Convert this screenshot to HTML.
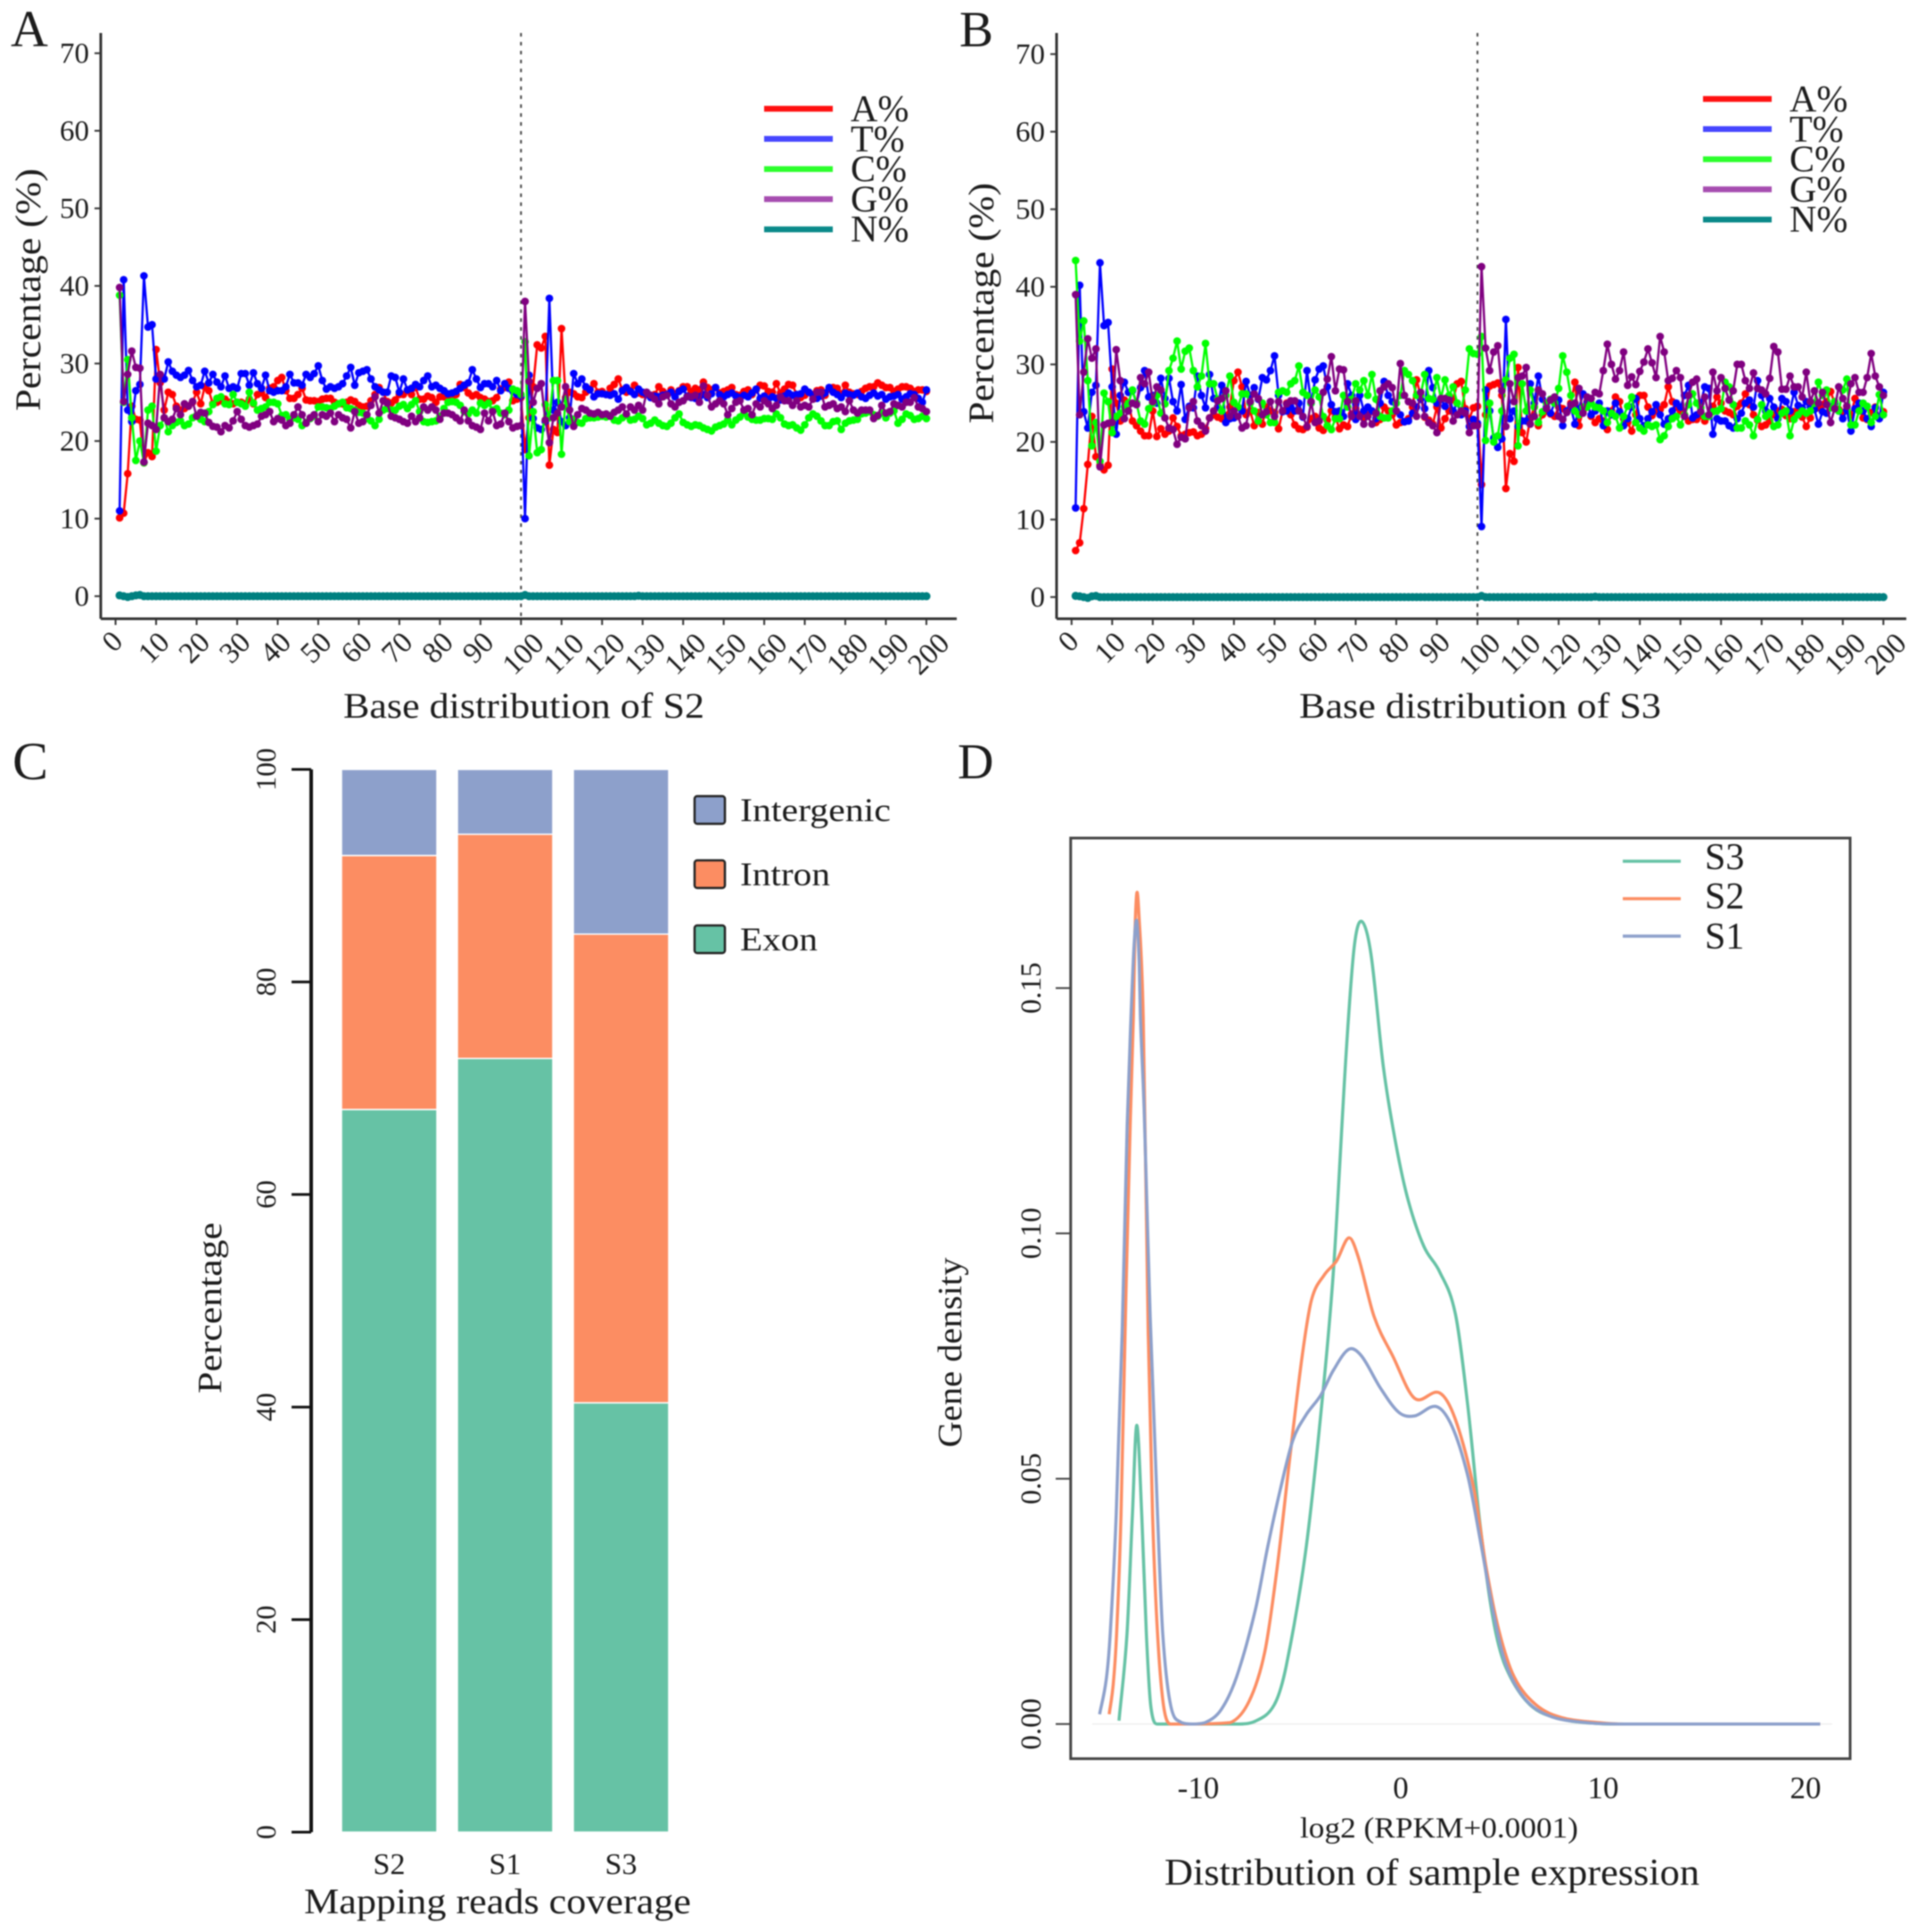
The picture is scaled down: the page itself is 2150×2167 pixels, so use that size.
<!DOCTYPE html>
<html lang="en">
<head>
<meta charset="utf-8">
<title>Base distribution, mapping coverage and expression density</title>
<style>
html,body{margin:0;padding:0;background:#fff;width:2150px;height:2167px;overflow:hidden}
svg{display:block;filter:blur(0.9px)}
text{font-family:"Liberation Serif",serif;fill:#1c1c1c}
</style>
</head>
<body>
<svg id="figure" xmlns="http://www.w3.org/2000/svg" width="2150" height="2167" viewBox="0 0 2150 2167">
<rect x="0" y="0" width="2150" height="2167" fill="#fff"/>
<text x="12" y="52" font-size="58">A</text>
<text x="1076" y="52" font-size="57">B</text>
<text x="14" y="874" font-size="60">C</text>
<text x="1074" y="873" font-size="56">D</text>
<text x="385" y="805" font-size="40" textLength="405" lengthAdjust="spacingAndGlyphs">Base distribution of S2</text>
<text transform="translate(45,325) rotate(-90)" text-anchor="middle" font-size="40" textLength="272" lengthAdjust="spacingAndGlyphs">Percentage (%)</text>
<text x="1457" y="805" font-size="40" textLength="406" lengthAdjust="spacingAndGlyphs">Base distribution of S3</text>
<text transform="translate(1114,340) rotate(-90)" text-anchor="middle" font-size="40" textLength="270" lengthAdjust="spacingAndGlyphs">Percentage (%)</text>
<text transform="translate(248,1467) rotate(-90)" text-anchor="middle" font-size="38" textLength="192" lengthAdjust="spacingAndGlyphs">Percentage</text>
<text x="341" y="2146" font-size="40" textLength="434" lengthAdjust="spacingAndGlyphs">Mapping reads coverage</text>
<text transform="translate(1078,1517) rotate(-90)" text-anchor="middle" font-size="38" textLength="213" lengthAdjust="spacingAndGlyphs">Gene density</text>
<text x="1458" y="2054" font-size="33" textLength="312" lengthAdjust="spacingAndGlyphs" transform="translate(0,7)">log2 (RPKM+0.0001)</text>
<text x="1306" y="2114" font-size="42" textLength="600" lengthAdjust="spacingAndGlyphs">Distribution of sample expression</text>
</svg>
<script>
var baseTicksY = [0,10,20,30,40,50,60,70];
var baseTicksX = [0,10,20,30,40,50,60,70,80,90,100,110,120,130,140,150,160,170,180,190,200];
var baseLegend = ["A%","T%","C%","G%","N%"];

var s2A = [10.1,10.7,15.8,24.5,22.8,22.7,17.2,18.5,18,31.8,
27.5,24,26.3,26,24.5,24,24.2,24.5,25,26.3,
24.8,27,26.5,24.8,25,25.2,25.4,25,24.8,25,
25,24.8,25.4,24.8,26,26.2,25.6,26.8,27,27.8,
28.2,26.5,25.5,25.5,26,26.8,25.3,25.2,25.2,25.1,
25.4,25.5,25.5,25,24.8,24.8,25,25.3,25.1,24.6,
24.4,24.5,25.2,26,26.9,26.3,25.1,24.9,25.3,26,
26,26.5,26,26.9,25.4,25.4,25.8,25.6,25,25.7,
25.7,25.4,25.7,26,27.3,26.9,26.2,25.8,26,25.6,
25.4,25.1,25.2,25.6,26.7,26.9,27.6,25.2,25.4,25.6,
18.9,23,27,32.4,32,33.5,16.9,21.5,21.1,34.5,
25.6,26.3,26.1,25.7,25.6,26.3,26.7,27.4,26.3,26.4,
26,26.8,27.3,28,26.6,26.3,26.5,27.2,26.2,26,
26.2,25.9,26,27,26.4,26,26.6,26.1,26.5,27,
27,26.4,26.8,26.6,27.6,26.9,26.6,26.9,26.2,26.4,
26.6,26.9,26,25.9,26.4,26.6,26,26.6,27.2,27.1,
26.4,26.3,27.4,26.2,26.7,27.3,27.2,26,25.6,25.9,
26.3,26,26.5,26.6,25.9,26.7,26.9,26.8,26.1,27.2,
26.3,26.1,26,26.4,26.8,27,27,27.5,27.2,26.9,
26.9,26.4,26.7,27,27,26.8,26.4,26.6,26.6,26.4];
var s2T = [11,40.8,24,22.5,26.5,27.3,41.3,34.7,35,28,
28.5,28,30.2,29,28.5,28.2,28.5,29.1,27.8,27,
27.2,29,27.5,28.6,27.6,27,28.4,26.8,27,26.8,
28.7,28.7,27.2,28.8,27.4,26.8,28.5,26.5,26.3,26.5,
26.5,27,28.6,27.5,27.5,27.2,28.6,28.2,28.7,29.7,
27.8,26.7,27,26.8,27,27.4,28.4,29.5,27.2,28.8,
29,29.2,28,27,26.6,26.3,26.3,28.4,28.2,26.3,
28,26.6,26.8,27.3,27,27.8,28.4,27,27.2,26.8,
26.5,26.1,26.2,26.4,26.8,27.2,27.5,29.2,28,26.9,
27.4,27.4,27,27.8,26.5,27.4,26.8,26.4,26,25.8,
10,28.5,22.9,21.7,21.5,22.5,38.4,24,25,22.5,
22,23,28.7,27.4,28,27,26.6,25.7,26.1,26.1,
26,25.9,26.1,25.4,26.5,26.9,26.4,26,26.7,26.3,
26,25.6,25.8,25.7,25.9,26,26.3,25.7,26.4,26.7,
25.8,25.6,25.5,25.7,26,25.6,26.1,26.9,26,25.7,
26,26.2,25.8,25.6,25.9,25.7,26.2,26.7,25.5,25.8,
25.4,25.7,25.5,25.3,25.8,26.2,25.9,26,26.1,26.7,
26.3,25.9,25.5,25.8,26.2,26.9,26.3,26,25.6,26.2,
26,25.9,26.2,25.7,25.5,25.9,26.2,25.8,26,25.4,
25.7,25.8,26,25.4,25.7,26.1,26,25.5,25,26.6];
var s2C = [38.8,25,30.5,23,17.5,20,17.2,24,24.5,18.7,
22,23,21.2,22,22.4,22.6,22,22.2,23,23.3,
22.8,22.5,23.8,24.7,25.5,25.7,24.8,24.7,26,25,
24.8,24.5,26.3,24.9,24,24.2,24.4,25,25,24.8,
23.3,23.4,22.8,23,22.8,22,22.4,22.9,23.2,24.4,
24.4,24.3,24.2,24.5,24.8,25,24.3,24.2,24,23.7,
23.6,22.9,22.6,22,22.8,24,24.2,24,24,24.5,
24.7,24.2,24.7,25.2,23.8,22.5,22.4,22.5,22.6,23.2,
24.2,25,25.1,25,24.6,23.8,23.5,24,23.6,24.9,
24.6,24.9,24,24.2,23.6,23.4,24,26.7,26.5,26,
32.8,18.1,23.8,18.5,18.9,24.7,23,27.8,27.8,18.3,
25.4,22.5,22.8,22.4,22.3,22.9,23,23,23.1,23.2,
23.1,23.3,22.7,22.6,23,23.3,22.7,22.8,23.2,22.9,
22.1,22.3,22.7,22.3,22,21.9,22.3,23,23.5,22.4,
22.1,21.9,22.1,22,21.7,21.5,21.3,21.8,22,22.2,
22.7,22.1,22.7,23.1,23.6,23.1,22.8,22.7,22.7,22.9,
22.9,22.8,23.5,23,22.2,22,22.1,21.7,21.4,22.1,
23,23.5,23.2,22.6,22,22,22.5,22.6,21.5,22.3,
22.6,22.7,22.8,23.5,23.6,23.8,23.4,23.2,23.6,23,
23.6,23.9,22.3,22.8,23.5,23.3,22.8,22.9,23.2,22.9];
var s2G = [39.8,25.1,28.6,31.6,29.5,29.4,17.3,22.3,22,21.5,
28.6,23,22.5,22.8,24.2,23.4,24.8,24.5,25.1,23.2,
23.7,23.6,22.4,21.9,21.8,21.2,22,21.7,22.6,23.8,
22.8,22,21.8,22,22.2,23.2,23.4,23.8,22.5,22.9,
22.7,22,22.3,23.4,24.4,23.4,22.3,23,23.4,22.5,
23.4,23.2,23.6,22.5,23.4,23,22.8,21.7,23.8,22.3,
22.5,23.4,24.6,25.7,23.6,25.2,24.9,23.2,23,22.8,
22.5,22.3,23.2,22.5,23,24.4,24,24.4,24,22.8,
23.6,23.6,23.4,23,22.6,24,22.6,22,21.8,21.5,
23.6,22.6,23.8,22,22.2,23.6,22.5,21.7,21.9,22,
38,27.7,25,26.8,27.4,22.7,19.8,23,23.6,24.4,
27,24,21.9,23.4,24.2,24,23.6,23.5,23.7,23.4,
23.5,23.2,23.7,24,24.4,23.5,24.4,24,24.6,24,
26.3,25.9,25.4,24.8,25.7,25.9,24.8,24.4,25,25.2,
25.7,25.7,25.9,25,27.1,25.9,24.4,24.8,25.2,24.8,
23.4,24.2,25,25.2,24,24.2,23.4,24.8,24.4,25.2,
24.8,24.2,24.6,25.7,25.2,25.2,24.6,25.2,24.4,24.6,
24.4,25.4,26.3,26.3,24.4,24.6,24.8,24.2,24.4,23.8,
25.2,24,23.6,24,24,24,22.9,23.3,24.6,23.6,
23.8,24.8,24.6,24.4,25,25,25.6,24.4,24.2,23.8];
var s2N = [0.1,0,-0.1,0,0.1,0.15,0,0,0,0,0,0,0,0,0,0,0,0,0,0,
0,0,0,0,0,0,0,0,0,0,0,0,0,0,0,0,0,0,0,0,
0,0,0,0,0,0,0,0,0,0,0,0,0,0,0,0,0,0,0,0,
0,0,0,0,0,0,0,0,0,0,0,0,0,0,0,0,0,0,0,0,
0,0,0,0,0,0,0,0,0,0,0,0,0,0,0,0,0,0,0,0,
0.15,0,0,0,0,0,0,0,0,0,0,0,0,0,0,0,0,0,0,0,
0,0,0,0,0,0,0,0,0.05,0,0,0,0,0,0,0,0,0,0,0,
0,0,0,0,0,0,0,0,0,0,0,0,0,0,0,0,0,0,0,0,
0,0,0,0,0,0,0,0,0,0,0,0,0,0,0,0,0,0,0,0,
0,0,0,0,0,0,0,0,0,0,0,0,0,0,0,0,0,0,0,0];

var s3A = [6,7,11.4,17.1,23.3,18.1,17,16.4,17,29.4,
25,22.7,25.4,25,22.7,22.1,21.4,20.8,20.8,24,
20.7,21.7,21,21.4,23.1,22,20.8,21,21.2,21.3,
20.8,21,21.7,23.1,23.5,23.2,23,23.4,24.5,27.9,
29,27.1,23.5,24,22.1,23.8,22.3,24.5,24,23.8,
21.7,24,25,23.5,22.2,21.7,21.6,21.9,23,23.3,
21.8,21.5,22.8,24,23.2,21.7,22.2,22,23.6,24.3,
23.5,23.1,23.5,24,22.5,22.9,24.5,24,23.5,22.2,
22.5,22.6,23,24.5,28,26,23.2,22.8,22.3,24.5,
21.8,23,24,25.5,27.5,27.8,24.3,23,24.4,24.6,
14.5,23.5,27.2,27.4,27.6,26,14,18.5,17.5,29.6,
21.2,20,23,24.5,22.1,23.5,24,23.6,23.3,24.5,
24.3,23.9,25,27.7,22.1,24,25.2,23.3,22.5,23,
22.7,21.6,24,25.8,25.2,23,22.5,21.4,23.5,26,
26,24.5,23.4,24,24.2,24.8,27.1,25.2,24.5,24,
23.5,22.7,22.9,22.9,23.4,22.7,23.4,24.6,25.8,25,
24,23.8,23.5,24.6,25,26.2,24.8,23.5,22.8,22,
22.2,22.7,23.5,24,24.2,23.4,23,23.9,23.8,23.2,
22,23.1,24.6,24.4,24.8,25.2,26.5,25,24.2,23.8,
24.6,23.4,25.6,24.2,23.1,22.9,23.8,24.5,23.2,23.9];
var s3T = [11.5,40.2,23.9,21.8,26.4,27.3,43.1,35,35.4,27.1,
21,26,27.7,26.4,26.6,25,27,29.2,25.8,26,
25,28.2,25.6,28.2,25.2,24,27.4,22.9,24.6,24.4,
28.5,26,24.4,28.7,25.6,24.5,27.3,22.5,23,23.1,
24.5,24,27.8,26,27,25.5,28.3,28,29.2,31.1,
26,23.9,24,24.5,24,25,23.2,29.2,25,28,
29.4,29.8,27.1,24.8,23.9,24,23.3,27.5,26,22.9,
26,24,24.5,24,23,25,27.8,26,25.2,24,
23.5,22.6,22.7,23.7,24.5,25.5,24.3,29.2,27,25,
25.5,24.6,25.8,24,25,23.5,24,22,22.9,22.4,
9.1,26.7,24,20.5,19.3,20.4,35.8,23,24,22,
22.7,22.7,27.5,25,28.5,25.5,24.5,23.7,25,25.4,
22.1,24,24.5,22.3,24.3,26.2,25,23.5,24,25,
22.1,24,23.5,25,23.9,22.1,23,24.5,25.6,23,
22.1,23,23.9,24.8,23.5,22.3,23,24,25,24.5,
26,27.3,23.1,23.5,25,27.1,26.9,21,23,22.7,
22.7,22.1,21.8,23,23.7,25,25.4,24.5,27.9,26,
24,25.6,24.5,23,25.6,25.2,24,26.4,24.7,24.4,
25.2,24.5,24.2,22.3,23.9,23.7,24.5,25,24,23,
24.1,21.4,24.3,25,24,23,22,24.4,23,26.4];
var s3C = [43.4,33,35.6,27.9,19.5,22.5,17.5,26.3,25.2,21.2,
23.3,23.7,24.5,25,26.7,25,22.7,22.3,24.3,25,
26,23.7,24.9,29.2,30.8,33,29.4,31.7,32.1,29.2,
27.1,28.5,32.7,27.5,27.5,25.5,24,26,28.5,25.1,
24.5,26.2,26.2,25,24,22.7,25,23.5,22.5,22.5,
26.4,26.6,26.4,27.5,27.9,29.8,26.4,26,25,26.7,
25.8,23.3,22.1,21.6,23,23,26,24.5,25.5,27.5,
26.7,27.9,26,28.7,25.5,23.3,23.1,23.1,24,25,
26,29.2,28.7,27.9,26,26,28.7,25.6,25.5,28.3,
25.6,28,26,27.1,25,24,26.7,32,31.4,31.3,
33.6,20.2,25,20,20.8,24,28,30.8,31.3,19.5,
27.5,24,26.7,24.5,22.5,23.9,25,25.5,25,26.9,
31.1,29,26,24,23.5,24.5,24.5,25,24.5,24.4,
24,22.5,23.7,23.3,21.8,23.3,24.6,25.8,22.5,21.8,
21.4,22.2,22,22.2,20.3,20.8,22,23,23.3,22.2,
23.5,24.8,26.2,25,24.4,23.3,23.3,23.9,24,24.3,
27.7,27.1,24.8,21.8,21.8,22.7,22.2,20.8,22.9,24.8,
23.3,23.7,22,22.2,23.7,24,20.8,22.9,23.5,24,
23.7,24,25,27.7,26,26.7,24.4,25.2,24,26.7,
28.1,22.2,22.2,24,25,24.6,22.5,23.3,26.1,23.5];
var s3G = [39,23.5,29,33.3,30.8,32,16.8,22.2,22.4,22.5,
31.9,27.9,23,24,25,24.8,28.3,27.5,29,25.2,
27.1,26.7,23.1,21.8,21.6,19.7,20.6,20.4,24.4,25.2,
22.7,22.1,21.4,23.1,24,25.3,25.6,26.6,23.3,24,
23.3,21.8,22.1,25.2,26.2,25.6,23.5,23.9,25.2,23.3,
25.2,24,24.9,25.3,25.3,24,23.3,22,25.2,22.5,
22.7,26.4,28.1,31,26.6,29.4,29.3,25.2,23.3,25.3,
23.3,22.3,23.3,22.3,23.7,26.6,27.1,27.5,27,24,
30.1,26,25.2,25,23.3,26.4,23.3,22.5,22.1,21.2,
25.6,25.6,25.4,22.7,23.5,24,23.7,21.2,22.1,22.1,
42.6,32.1,29.2,31.6,32.4,26.6,22,27.5,25.2,28.3,
28.5,29.6,22.3,23.3,26.7,26.2,24.3,25.4,25.8,23.3,
22.9,23.8,24.8,25,26.9,23.7,25.8,25.6,26.4,26.2,
29.2,32.6,30,28.1,29.2,31.6,27.3,28.4,27.4,29.1,
30.3,32,30.2,28.3,33.6,31.6,27.9,28.2,29.2,28.3,
23.3,26,27.7,28.1,23.9,25.8,23.5,29,26.6,28.3,
26.9,25.4,26.6,30,30,27.9,26.9,28.9,26.9,26.7,
26.2,28.2,32.3,31.6,26.8,26.8,28.5,27.1,27.1,25.8,
29,25.2,26.6,25,26.4,24.8,22.5,24.3,27.1,25.6,
24.6,27.5,28.3,26.4,26.4,28.3,31.4,28.5,27.1,26];
var s3N = [0.15,0.1,0,-0.1,0.1,0.15,0,0,0,0,0,0,0,0,0,0,0,0,0,0,
0,0,0,0,0,0,0,0,0,0,0,0,0,0,0,0,0,0,0,0,
0,0,0,0,0,0,0,0,0,0,0,0,0,0,0,0,0,0,0,0,
0,0,0,0,0,0,0,0,0,0,0,0,0,0,0,0,0,0,0,0,
0,0,0,0,0,0,0,0,0,0,0,0,0,0,0,0,0,0,0,0,
0.15,0,0,0,0,0,0,0,0,0,0,0,0,0,0,0,0,0,0,0,
0,0,0,0,0,0,0,0,0.05,0,0,0,0,0,0,0,0,0,0,0,
0,0,0,0,0,0,0,0,0,0,0,0,0,0,0,0,0,0,0,0,
0,0,0,0,0,0,0,0,0,0,0,0,0,0,0,0,0,0,0,0,
0,0,0,0,0,0,0,0,0,0,0,0,0,0,0,0,0,0,0,0];

var barCategories = ["S2","S1","S3"];
var exonValues = [68,72.8,40.4];
var intronValues = [23.9,21.1,44.1];
var intergenicValues = [8.1,6.1,15.5];
var barTicks = [0,20,40,60,80,100];
var barLegend = ["Intergenic","Intron","Exon"];

var densityX_S3 = [-14.16,-13.76,-13.49,-13.27,-13.02,-12.79,-12.57,-12.24,-11,-8.28,-7.34,-6.4,-5.8,-4.84,-4.06,-3.44,-2.8,-2.4,-2.03,-1.56,-0.94,-0.31,0.31,1.09,1.87,2.66,3.28,3.9,4.53,5.16,6.4,8,9.84,11.1,20.9];
var densityY_S3 = [0.0007,0.0183,0.0425,0.0609,0.0425,0.0183,0.0037,0,0,0,0.0006,0.0039,0.0118,0.0348,0.0635,0.0922,0.1368,0.1583,0.1636,0.1569,0.1339,0.1181,0.1066,0.0973,0.0922,0.0836,0.0649,0.0405,0.0218,0.0118,0.0039,0.001,0.0001,0,0];
var densityX_S2 = [-14.65,-14.45,-14.28,-14.06,-13.8,-13.6,-13.44,-13.37,-13.27,-13.17,-12.95,-12.7,-12.48,-12.23,-11.93,-11.57,-10.8,-8.6,-7.66,-6.87,-6.25,-5.6,-5,-4.53,-3.9,-3.28,-2.66,-2.19,-1.4,-0.47,0.62,1.87,2.66,3.6,4.2,4.84,5.6,6.7,8,9.84,11.1,20.9];
var densityY_S2 = [0.002,0.008,0.0183,0.0425,0.09,0.122,0.1442,0.16,0.1693,0.1655,0.1442,0.08,0.0425,0.0183,0.0037,0,0,0.0003,0.0046,0.0147,0.0319,0.0549,0.075,0.0865,0.0915,0.0944,0.0991,0.0951,0.083,0.075,0.0664,0.0675,0.0621,0.0477,0.0319,0.019,0.0096,0.0039,0.0013,0.0003,0,0];
var densityX_S1 = [-15.13,-14.8,-14.6,-14.3,-14,-13.75,-13.56,-13.4,-13.27,-13.15,-13.09,-12.9,-12.6,-12.23,-11.97,-11.57,-11.03,-10.5,-9.85,-9.06,-8.28,-7.34,-6.72,-6.1,-5.47,-4.84,-4.06,-3.44,-2.66,-2.03,-1.09,-0.16,0.62,1.72,2.5,3.28,3.9,4.53,5.16,6.1,7.34,9.2,11.1,20.9];
var densityY_S1 = [0.002,0.009,0.0183,0.0425,0.08,0.122,0.1442,0.159,0.1637,0.155,0.1442,0.125,0.083,0.0425,0.0183,0.0037,0.0003,0,0.0003,0.0029,0.0096,0.0233,0.0362,0.0477,0.0578,0.0628,0.0671,0.0721,0.0764,0.075,0.0685,0.0635,0.0628,0.0647,0.0606,0.0506,0.0376,0.0233,0.0125,0.0053,0.0017,0.0003,0,0];
var densityTicksX = [-10,0,10,20];
var densityTickLabelsY = ["0.00","0.05","0.10","0.15"];
var densityTicksY = [0,0.05,0.1,0.15];
var densityLegend = ["S3","S2","S1"];

var NS = "http://www.w3.org/2000/svg";
var root = document.getElementById("figure");
function make(tag, attrs, parent){
  var el = document.createElementNS(NS, tag);
  for (var k in attrs) el.setAttribute(k, attrs[k]);
  (parent || root).appendChild(el);
  return el;
}
function group(name){
  var g = make("g", {});
  
  
  return g;
}

function drawBasePanel(cfg){
  var sx = function(v){ return cfg.x0 + (v / 200) * (cfg.x200 - cfg.x0); };
  var sy = function(v){ return cfg.y0 + (v / 70) * (cfg.y70 - cfg.y0); };
  var axes = group(cfg.id + "-axes");
  var yAxis = make("line", {x1:cfg.axisX, x2:cfg.axisX, y1:cfg.axisTop, y2:cfg.axisBottom, stroke:"#333", "stroke-width":3}, axes);
  
  
  var xAxis = make("line", {x1:cfg.axisX, x2:cfg.axisRight, y1:cfg.axisBottom, y2:cfg.axisBottom, stroke:"#333", "stroke-width":3}, axes);
  
  
  baseTicksY.forEach(function(t){
    var yy = sy(t);
    var tick = make("line", {x1:cfg.axisX-7, x2:cfg.axisX, y1:yy, y2:yy, stroke:"#333", "stroke-width":2}, axes);
    
    
    var lab = make("text", {x:cfg.axisX-13, y:yy+11, "text-anchor":"end", "font-size":33}, axes);
    
    
    lab.textContent = String(t);
  });
  baseTicksX.forEach(function(t){
    var xx = sx(t);
    var tick = make("line", {x1:xx, x2:xx, y1:cfg.axisBottom, y2:cfg.axisBottom+7, stroke:"#333", "stroke-width":2}, axes);
    
    
    var s = String(t);
    var cx = xx + (s.length-1)*5 + (s.length===1?4:0), cy = 727 + (s.length-1)*7;
    var lab = make("text", {transform:"translate("+cx+","+cy+") rotate(-45)", "text-anchor":"middle", "font-size":33}, axes);
    
    
    lab.textContent = s;
  });
  var vline = make("line", {x1:sx(100), x2:sx(100), y1:cfg.axisTop, y2:cfg.axisBottom, stroke:"#444", "stroke-width":2, "stroke-dasharray":"4 6"}, axes);
  
  

  var seriesColors = ["#ff0000","#0000ff","#00ff00","#800080","#008080"];
  cfg.series.forEach(function(vals, si){
    var g = group(cfg.id + "-series-" + baseLegend[si].replace("%","").toLowerCase());
    var d = "";
    vals.forEach(function(v,i){ d += (i ? "L" : "M") + sx(i+1).toFixed(2) + " " + sy(v).toFixed(2); });
    var line = make("path", {d:d, fill:"none", stroke:seriesColors[si], "stroke-width":si===4?4:2.5}, g);
    
    
    vals.forEach(function(v,i){
      var c = make("circle", {cx:sx(i+1).toFixed(2), cy:sy(v).toFixed(2), r:si===4?4.6:4.3, fill:seriesColors[si]}, g);
      
      
    });
  });
  var legendColors = ["#ff1010","#4646ff","#2dff2d","#a64db0","#0a8a8a"];
  var lg = group(cfg.id + "-legend");
  baseLegend.forEach(function(name,i){
    var yy = cfg.legendY + i*33.8;
    var sw = make("line", {x1:cfg.legendX, x2:cfg.legendX+77, y1:yy, y2:yy, stroke:legendColors[i], "stroke-width":6.5}, lg);
    
    
    var t = make("text", {x:cfg.legendX+97, y:yy+14, "font-size":42}, lg);
    
    
    t.textContent = name;
  });
}

drawBasePanel({id:"a", x0:129.6, x200:1039, y0:668.7, y70:59.7, axisX:113, axisTop:37, axisBottom:694, axisRight:1073, legendX:857, legendY:122, series:[s2A,s2T,s2C,s2G,s2N]});
drawBasePanel({id:"b", x0:1201.8, x200:2112.3, y0:669.7, y70:60.7, axisX:1185, axisTop:37, axisBottom:694, axisRight:2138, legendX:1910, legendY:111, series:[s3A,s3T,s3C,s3G,s3N]});

(function(){
  var y0 = 2055, y100 = 863;
  var sy = function(v){ return y0 + (v/100)*(y100-y0); };
  var bx = function(i){ return 383 + i*130; };
  var barW = 107;
  var g = group("c-stacked-bars");
  var axisX = 349;
  var axis = make("line", {x1:axisX, x2:axisX, y1:sy(100), y2:sy(0), stroke:"#111", "stroke-width":4}, g);
  
  
  barTicks.forEach(function(t){
    var yy = sy(t);
    var tick = make("line", {x1:axisX-22, x2:axisX, y1:yy, y2:yy, stroke:"#111", "stroke-width":3}, g);
    
    
    var lab = make("text", {transform:"translate(309,"+yy+") rotate(-90)", "text-anchor":"middle", "font-size":32}, g);
    
    
    lab.textContent = String(t);
  });
  barCategories.forEach(function(cat,i){
    var base = 0;
    [[exonValues,"#66c2a5","exon"],[intronValues,"#fc8d62","intron"],[intergenicValues,"#8da0cb","intergenic"]].forEach(function(s){
      var v = s[0][i];
      var r = make("rect", {x:bx(i), width:barW, y:sy(base+v), height:sy(base)-sy(base+v), fill:s[1], stroke:"#fff", "stroke-width":1.5}, g);
      
      
      base += v;
    });
    var lab = make("text", {x:bx(i)+barW/2, y:2102, "text-anchor":"middle", "font-size":34}, g);
    
    
    lab.textContent = cat;
  });
  var legendFill = ["#8da0cb","#fc8d62","#66c2a5"];
  var legendTops = [893,965,1038];
  var legendWidths = [169,101,87];
  var lg = group("c-legend");
  barLegend.forEach(function(name,i){
    var sw = make("rect", {x:779, y:legendTops[i], width:34, height:31, rx:3, fill:legendFill[i], stroke:"#222", "stroke-width":2.5}, lg);
    
    
    var t = make("text", {x:830, y:legendTops[i]+28, "font-size":37, textLength:legendWidths[i], lengthAdjust:"spacingAndGlyphs"}, lg);
    
    
    t.textContent = name;
  });
})();

(function(){
  var sx = function(v){ return 1572.6 + v*22.43; };
  var sy = function(v){ return 1933.8 - v*5504; };
  var g = group("d-density-plot");
  var box = make("rect", {x:1200.8, y:940, width:874.2, height:1032.6, fill:"none", stroke:"#444", "stroke-width":3}, g);
  
  
  var zero = make("line", {x1:sx(-15.5), x2:sx(21.5), y1:sy(0), y2:sy(0), stroke:"#eee", "stroke-width":1.5}, g);
  
  
  densityTicksX.forEach(function(t){
    var lab = make("text", {x:1571 + t*22.7, y:2017, "text-anchor":"middle", "font-size":35}, g);
    
    
    lab.textContent = String(t);
  });
  densityTicksY.forEach(function(t,i){
    var yy = sy(t);
    var tick = make("line", {x1:1184, x2:1200.8, y1:yy, y2:yy, stroke:"#444", "stroke-width":2}, g);
    
    
    var lab = make("text", {transform:"translate(1167,"+yy+") rotate(-90)", "text-anchor":"middle", "font-size":33}, g);
    
    
    lab.textContent = densityTickLabelsY[i];
  });
  function smoothPath(xs, ys){
    var n = xs.length;
    var m = xs.map(function(x,i){
      if (i === 0) return (ys[1]-ys[0])/(xs[1]-xs[0]);
      if (i === n-1) return (ys[n-1]-ys[n-2])/(xs[n-1]-xs[n-2]);
      var d0 = ys[i]-ys[i-1], d1 = ys[i+1]-ys[i];
      if (d0 === 0 || d1 === 0) return 0;
      return (ys[i+1]-ys[i-1])/(xs[i+1]-xs[i-1]);
    });
    var d = "M" + sx(xs[0]).toFixed(2) + " " + sy(ys[0]).toFixed(2);
    for (var i=0;i<n-1;i++){
      var h = xs[i+1]-xs[i];
      var c1y = Math.max(ys[i]+m[i]*h/3, 0), c2y = Math.max(ys[i+1]-m[i+1]*h/3, 0);
      d += "C"+sx(xs[i]+h/3).toFixed(2)+" "+sy(c1y).toFixed(2)+" "+sx(xs[i+1]-h/3).toFixed(2)+" "+sy(c2y).toFixed(2)+" "+sx(xs[i+1]).toFixed(2)+" "+sy(ys[i+1]).toFixed(2);
    }
    return d;
  }
  var curveS3 = make("path", {d:smoothPath(densityX_S3,densityY_S3), fill:"none", stroke:"#66c2a5", "stroke-width":3.5}, g);
  
  
  var curveS2 = make("path", {d:smoothPath(densityX_S2,densityY_S2), fill:"none", stroke:"#fc8d62", "stroke-width":3.5}, g);
  
  
  var curveS1 = make("path", {d:smoothPath(densityX_S1,densityY_S1), fill:"none", stroke:"#8da0cb", "stroke-width":3.5}, g);
  
  
  var legendColor = ["#66c2a5","#fc8d62","#8da0cb"];
  var legendTextShift = [-5,-3,0];
  var lg = group("d-legend");
  densityLegend.forEach(function(name,i){
    var yy = 966 + i*42;
    var sw = make("line", {x1:1820, x2:1885, y1:yy, y2:yy, stroke:legendColor[i], "stroke-width":3.5}, lg);
    
    
    var t = make("text", {x:1912, y:yy+14+legendTextShift[i], "font-size":42}, lg);
    
    
    t.textContent = name;
  });
})();
</script>
</body>
</html>
